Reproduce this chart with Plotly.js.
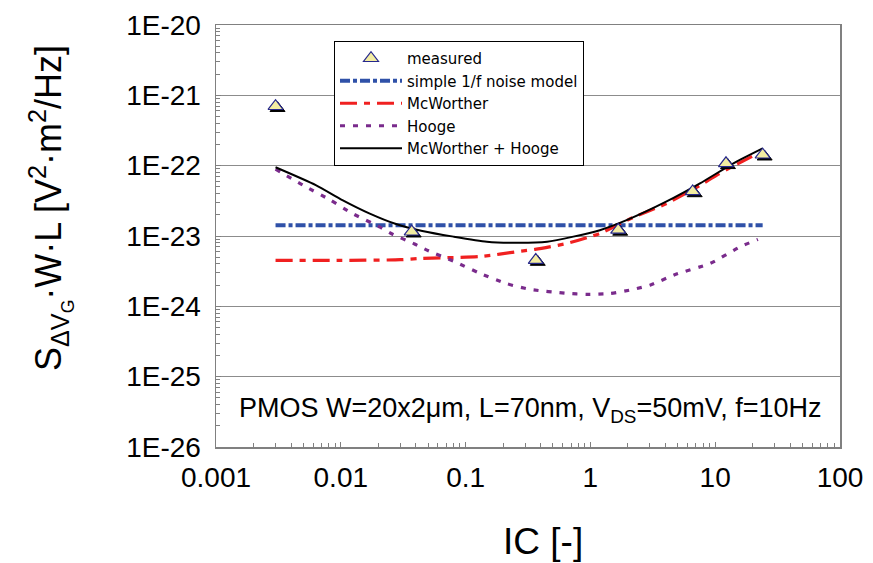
<!DOCTYPE html>
<html>
<head>
<meta charset="utf-8">
<script src="https://cdn.plot.ly/plotly-3.0.1.min.js"></script>
<style>html,body{margin:0;padding:0;background:#fff;}#chart{width:873px;height:563px;}</style>
</head>
<body>
<div id="chart"></div>
<script>
// ---- data ----
const measuredX = [0.003, 0.037, 0.365, 1.67, 6.6, 12.2, 24];
const measuredY = [7.0e-22, 1.15e-23, 4.55e-24, 1.22e-23, 4.3e-23, 1.08e-22, 1.43e-22];

const simpleX = [0.003, 24];
const simpleY = [1.42e-23, 1.42e-23];

const mcwX = [0.003, 0.01, 0.03, 0.043, 0.13, 0.28, 0.36, 0.65, 1.19, 2.2, 4.08, 7.5, 10.3, 14, 22];
const mcwY = [4.5e-24, 4.5e-24, 4.6e-24, 4.8e-24, 5.1e-24, 6.1e-24, 6.45e-24, 7.85e-24, 1.09e-23, 1.83e-23, 2.9e-23, 5.2e-23, 7.35e-23, 9.9e-23, 1.5e-22];

const hoogeX = [0.003, 0.005, 0.0081, 0.0124, 0.0204, 0.026, 0.039, 0.049, 0.082, 0.13, 0.213, 0.33, 0.65, 0.93, 1.44, 2.2, 3.0, 4.9, 9.1, 15.8, 22];
const hoogeY = [8.9e-23, 5.25e-23, 3.3e-23, 2.09e-23, 1.35e-23, 1.06e-23, 7.7e-24, 6.3e-24, 4.3e-24, 2.95e-24, 2.1e-24, 1.74e-24, 1.53e-24, 1.48e-24, 1.52e-24, 1.74e-24, 2.0e-24, 2.88e-24, 4.07e-24, 7.0e-24, 8.95e-24];

const sumX = [0.003, 0.0063, 0.0103, 0.0169, 0.0277, 0.045, 0.08, 0.148, 0.27, 0.45, 0.73, 1.19, 1.95, 4.08, 7.55, 14, 24];
const sumY = [9.5e-23, 5.3e-23, 3.24e-23, 2.1e-23, 1.48e-23, 1.18e-23, 9.8e-24, 8.3e-24, 8.0e-24, 8.3e-24, 9.8e-24, 1.21e-23, 1.68e-23, 3.1e-23, 5.6e-23, 1.08e-22, 1.76e-22];

const xTickVals = [0.001, 0.01, 0.1, 1, 10, 100];
const xTickText = ["0.001", "0.01", "0.1", "1", "10", "100"];
const yTickVals = [1e-26, 1e-25, 1e-24, 1e-23, 1e-22, 1e-21, 1e-20];
const yTickText = ["1E-26", "1E-25", "1E-24", "1E-23", "1E-22", "1E-21", "1E-20"];

const xTitle = 'IC [-]';
const yTitle = 'S<sub>ΔV<sub>G</sub></sub>·W·L [V<sup>2</sup>·m<sup>2</sup>/Hz]';
const noteText = 'PMOS W=20x2μm, L=70nm, V<sub>DS</sub>=50mV, f=10Hz';

// minor tick positions (2..9 in every decade)
function minorVals(e0, e1) {
  const out = [];
  for (let e = e0; e < e1; e++) for (let m = 2; m <= 9; m++) out.push(m * Math.pow(10, e));
  return out;
}

const FONT = "'Liberation Sans', Arial, sans-serif";
const W = 626, H = 424; // paper size in px (plot area + 2px for the marker shadow)
const L0 = 216, T0 = 25;
const px = v => (v - L0) / W;          // page x -> paper x
const py = v => (T0 + H - v) / H;      // page y -> paper y
const xDomMain = [0, 624 / W], yDomMain = [2 / H, 1];
const xDomShadow = [2 / W, 1], yDomShadow = [0, 422 / H];

const triFill = '#f3eda2', triLine = '#26288c';

const traces = [
  { x: simpleX, y: simpleY, name: 'simple 1/f noise model', mode: 'lines', legendrank: 2,
    line: { color: '#2f51a8', width: 4, dash: '10px,3px,4px,3px' } },
  { x: mcwX, y: mcwY, name: 'McWorther', mode: 'lines', legendrank: 3,
    line: { color: '#f02020', width: 3.2, dash: '17px,7px,6px,7px', shape: 'spline', smoothing: 0.6 } },
  { x: hoogeX, y: hoogeY, name: 'Hooge', mode: 'lines', legendrank: 4,
    line: { color: '#7a2b8c', width: 3.2, dash: '5px,8px', shape: 'spline', smoothing: 0.6 } },
  { x: sumX, y: sumY, name: 'McWorther + Hooge', mode: 'lines', legendrank: 5,
    line: { color: '#000000', width: 2, shape: 'spline', smoothing: 0.6 } },
  { x: measuredX, y: measuredY, xaxis: 'x2', yaxis: 'y2', mode: 'markers', showlegend: false, hoverinfo: 'skip',
    marker: { symbol: 'triangle-up', size: 13, color: '#000000', line: { color: '#000000', width: 1 } } },
  { x: measuredX, y: measuredY, xaxis: 'x3', yaxis: 'y3', name: 'measured', mode: 'markers', legendrank: 1,
    marker: { symbol: 'triangle-up', size: 13, color: triFill, line: { color: triLine, width: 1.2 } } }
];

const hiddenX = { type: 'log', range: [-3, 2], visible: false, fixedrange: true };
const hiddenY = { type: 'log', range: [-26, -20], visible: false, fixedrange: true };

const layout = {
  width: 873, height: 563,
  margin: { l: L0, r: 873 - L0 - W, t: T0, b: 563 - T0 - H, pad: 0 },
  paper_bgcolor: '#ffffff', plot_bgcolor: 'rgba(0,0,0,0)',
  font: { family: FONT, color: '#000000' },
  showlegend: true,
  legend: {
    x: px(334), y: py(41), xanchor: 'left', yanchor: 'top',
    bgcolor: '#ffffff', bordercolor: '#000000', borderwidth: 1,
    font: { family: "'DejaVu Sans', sans-serif", size: 15, color: '#000000' },
    itemwidth: 62, tracegroupgap: 0, traceorder: 'normal'
  },
  xaxis: {
    type: 'log', range: [-3, 2], domain: xDomMain, anchor: 'y',
    tickmode: 'array', tickvals: xTickVals, ticktext: xTickText,
    ticks: 'inside', ticklen: 5, tickwidth: 1, tickcolor: '#808080',
    minor: { tickmode: 'array', tickvals: minorVals(-3, 2), ticks: 'inside', ticklen: 4, tickwidth: 1, tickcolor: '#808080', showgrid: false },
    showline: true, linecolor: '#808080', linewidth: 1.5, mirror: true,
    showgrid: false, zeroline: false, automargin: false,
    tickfont: { family: FONT, size: 28, color: '#000000' }, ticklabelstandoff: 5,
    fixedrange: true
  },
  yaxis: {
    type: 'log', range: [-26, -20], domain: yDomMain, anchor: 'x',
    tickmode: 'array', tickvals: yTickVals, ticktext: yTickText,
    ticks: 'inside', ticklen: 5, tickwidth: 1, tickcolor: '#808080',
    minor: { tickmode: 'array', tickvals: minorVals(-26, -20), ticks: 'inside', ticklen: 4, tickwidth: 1, tickcolor: '#808080', showgrid: false },
    showline: true, linecolor: '#808080', linewidth: 1.5, mirror: true,
    showgrid: true, gridcolor: '#8c8c8c', gridwidth: 1, zeroline: false, automargin: false,
    tickfont: { family: FONT, size: 28, color: '#000000' }, ticklabelstandoff: 8,
    fixedrange: true
  },
  xaxis2: Object.assign({}, hiddenX, { domain: xDomShadow, anchor: 'y2' }),
  yaxis2: Object.assign({}, hiddenY, { domain: yDomShadow, anchor: 'x2' }),
  xaxis3: Object.assign({}, hiddenX, { domain: xDomMain, anchor: 'y3' }),
  yaxis3: Object.assign({}, hiddenY, { domain: yDomMain, anchor: 'x3' }),
  annotations: [
    { text: noteText, xref: 'paper', yref: 'paper', x: px(530.5), y: py(410),
      xanchor: 'center', yanchor: 'middle', showarrow: false,
      font: { family: FONT, size: 27, color: '#000000' } },
    { text: xTitle, xref: 'paper', yref: 'paper', x: px(543), y: py(541),
      xanchor: 'center', yanchor: 'middle', showarrow: false,
      font: { family: FONT, size: 37, color: '#000000' } },
    { text: yTitle, xref: 'paper', yref: 'paper', x: px(50), y: py(208), textangle: -90,
      xanchor: 'center', yanchor: 'middle', showarrow: false,
      font: { family: FONT, size: 36, color: '#000000' } }
  ]
};

Plotly.newPlot('chart', traces, layout, { displayModeBar: false, staticPlot: true });
</script>
</body>
</html>
